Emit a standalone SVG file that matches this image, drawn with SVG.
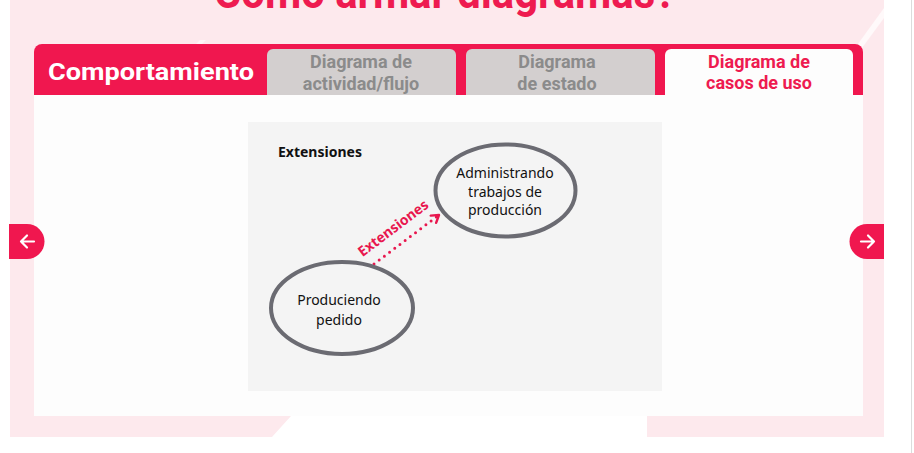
<svg xmlns="http://www.w3.org/2000/svg" width="914" height="453" viewBox="0 0 914 453">
<defs>
<style>
.tab{font-family:Roboto,"Liberation Sans",sans-serif;font-weight:bold;font-size:18px;text-anchor:middle}
.node{fill:none;stroke:#6b6b72;stroke-width:4}
.nt{font-family:"Noto Sans","Open Sans",sans-serif;font-size:14px;fill:#111;text-anchor:middle}
</style>
<marker id="arr" viewBox="0 0 12 12" refX="10" refY="6" markerWidth="12" markerHeight="12" markerUnits="userSpaceOnUse" orient="auto">
<path d="M3,1.5 L10,6 L3,10.5" fill="none" stroke="#e8174e" stroke-width="2.4" stroke-linecap="round" stroke-linejoin="round"/>
</marker>
</defs>
<rect width="914" height="453" fill="#ffffff"/>
<g id="background">
<path d="M10,0 H884 V437 H647 V416 H291 L272,437 H10 Z" fill="#fde9ed"/>
<path d="M150,90 L200,40 L206,40 L156,90 Z" fill="#ffffff" opacity="0.6"/>
<path d="M862,48 L884,18 L884,8 L855,48 Z" fill="#ffffff" opacity="0.7"/>
<line x1="911.5" y1="0" x2="911.5" y2="453" stroke="#dcdcdc" stroke-width="1"/>
<text x="445" y="8" font-family="Roboto,'Liberation Sans',sans-serif" font-weight="bold" font-size="46" fill="#ee1b50" text-anchor="middle" textLength="462" lengthAdjust="spacingAndGlyphs">Cómo armar diagramas?</text>
</g>
<g id="card">
<path d="M34,95 V52 A8,8 0 0 1 42,44 H855 A8,8 0 0 1 863,52 V95 Z" fill="#f0174f"/>
<rect x="34" y="95" width="829" height="321" fill="#fdfdfd"/>
<text x="151" y="80" font-family="Roboto,'Liberation Sans',sans-serif" font-weight="bold" font-size="24" fill="#ffffff" text-anchor="middle" textLength="206" lengthAdjust="spacingAndGlyphs">Comportamiento</text>
</g>
<g id="tab-actividad">
<path d="M267,95 V55 A6,6 0 0 1 273,49 H450 A6,6 0 0 1 456,55 V95 Z" fill="#d3cfcf"/>
<text class="tab" x="361" y="68" fill="#8b8b8b">Diagrama de</text>
<text class="tab" x="361" y="90" fill="#8b8b8b">actividad/flujo</text>
</g>
<g id="tab-estado">
<path d="M466,95 V55 A6,6 0 0 1 472,49 H649 A6,6 0 0 1 655,55 V95 Z" fill="#d3cfcf"/>
<text class="tab" x="557" y="68" fill="#8b8b8b">Diagrama</text>
<text class="tab" x="557" y="90" fill="#8b8b8b">de estado</text>
</g>
<g id="tab-casos">
<path d="M665,96 V55 A6,6 0 0 1 671,49 H847 A6,6 0 0 1 853,55 V96 Z" fill="#fdfdfd"/>
<text class="tab" x="759" y="68" fill="#ee1b50">Diagrama de</text>
<text class="tab" x="759" y="89" fill="#ee1b50">casos de uso</text>
</g>
<g id="btn-prev">
<path d="M9,224 H27 A17.5,17.5 0 0 1 27,259 H9 Z" fill="#f0174f"/>
<path d="M34,241.5 H21 M27,235.5 L21,241.5 L27,247.5" fill="none" stroke="#ffffff" stroke-width="2.2" stroke-linecap="round" stroke-linejoin="round"/>
</g>
<g id="btn-next">
<path d="M884,224 H867 A17.5,17.5 0 0 0 867,259 H884 Z" fill="#f0174f"/>
<path d="M861,241.5 H874 M868,235.5 L874,241.5 L868,247.5" fill="none" stroke="#ffffff" stroke-width="2.2" stroke-linecap="round" stroke-linejoin="round"/>
</g>
<g id="diagram-panel">
<rect x="248" y="122" width="414" height="269" fill="#f4f4f4"/>
<text x="278" y="157" font-family="'Noto Sans','Open Sans',sans-serif" font-weight="bold" font-size="14" fill="#111">Extensiones</text>
</g>
<g id="connectors">
<line x1="374" y1="264" x2="439" y2="215" stroke="#e8174e" stroke-width="3" stroke-dasharray="0 6.5" stroke-linecap="round" marker-end="url(#arr)"/>
<text x="0" y="0" transform="translate(396,232) rotate(-37)" font-family="'Noto Sans','Open Sans',sans-serif" font-weight="bold" font-size="14" fill="#e8174e" text-anchor="middle">Extensiones</text>
</g>
<g id="node-administrando">
<ellipse class="node" cx="505.5" cy="190.5" rx="70" ry="46"/>
<text class="nt" x="505" y="178">Administrando</text>
<text class="nt" x="505" y="197">trabajos de</text>
<text class="nt" x="505" y="215">producción</text>
</g>
<g id="node-produciendo">
<ellipse class="node" cx="342" cy="308" rx="71" ry="46"/>
<text class="nt" x="339" y="305">Produciendo</text>
<text class="nt" x="339" y="325">pedido</text>
</g>
</svg>
